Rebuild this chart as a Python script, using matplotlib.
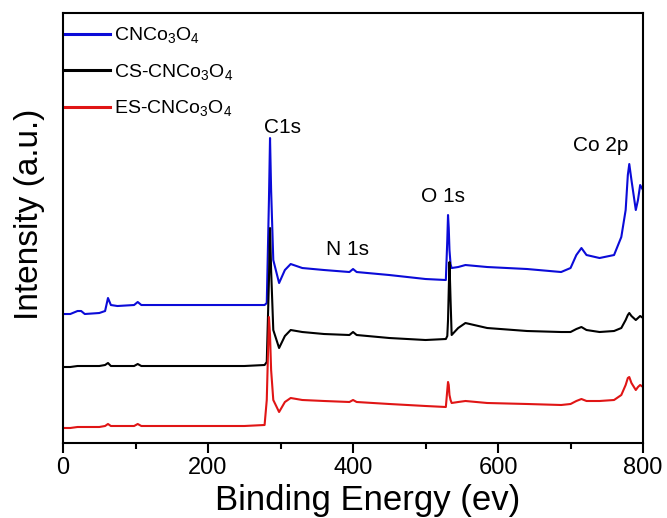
import numpy as np
import matplotlib
matplotlib.use("Agg")
import matplotlib.pyplot as plt
from matplotlib.ticker import MultipleLocator

plt.rcParams['font.family'] = ['Liberation Sans', 'DejaVu Sans']
plt.rcParams['mathtext.fontset'] = 'custom'
plt.rcParams['mathtext.rm'] = 'Liberation Sans'
plt.rcParams['mathtext.it'] = 'Liberation Sans:italic'

# 결합에너지 (eV)
energy = [0, 10, 20, 25, 30, 50, 58, 62, 66, 75, 98, 103, 108, 150, 200, 250,
          278, 281, 284, 285.5, 287, 290, 298, 306, 314, 330, 360, 395, 400, 405,
          450, 500, 528, 530, 531, 532, 533, 534.5, 536, 545, 555, 585, 640, 687,
          700, 708, 715, 722, 740, 760, 770, 776, 779, 781, 784, 790, 793, 796, 800]

# 세 시료의 세기 (a.u., 그림에서 읽은 값)
cnco = [129, 129, 132, 132, 129, 130, 132, 145, 138, 137, 138, 141, 138, 138, 138, 138,
        138, 140, 243, 305, 253, 183, 160, 173, 179, 175, 173, 171, 174, 171,
        168, 164, 163, 203, 228, 215, 193, 179, 175, 176, 178, 176, 174, 171,
        175, 188, 195, 188, 185, 188, 206, 233, 268, 279, 263, 233, 243, 258, 253]
cs_cnco = [76, 76, 77, 77, 77, 77, 78, 80, 77, 77, 77, 79, 77, 77, 77, 77,
           78, 81, 163, 215, 173, 113, 95, 107, 113, 111, 109, 108, 111, 108,
           105, 103, 104, 107, 123, 153, 181, 143, 108, 115, 120, 115, 112, 111,
           111, 114, 116, 113, 111, 112, 115, 123, 128, 130, 127, 123, 125, 127, 125]
es_cnco = [15, 15, 16, 16, 16, 16, 17, 19, 17, 17, 17, 19, 17, 17, 17, 17,
           18, 43, 126, 108, 73, 43, 31, 41, 45, 43, 42, 41, 43, 41,
           39, 37, 36, 53, 61, 58, 48, 43, 40, 41, 42, 40, 39, 38,
           39, 42, 44, 42, 42, 43, 48, 58, 65, 66, 60, 53, 56, 58, 56]

labels = ['CNCo$_3$O$_4$', 'CS-CNCo$_3$O$_4$', 'ES-CNCo$_3$O$_4$']
colors = ['#0b0bd8', 'black', '#e01515']

# 피크 이름
peak_names = ['C1s', 'N 1s', 'O 1s', 'Co 2p']
peak_x = [303, 392, 524, 742]
peak_y = [316, 194, 247, 298]

# 그리기
fig = plt.figure(figsize=(6.67, 5.18), dpi=100)
ax = fig.add_axes([0.0945, 0.1448, 0.8696, 0.830])

for yy, lab, c in zip([cnco, cs_cnco, es_cnco], labels, colors):
    ax.plot(energy, yy, color=c, lw=1.5, label=lab)

for name, px, py in zip(peak_names, peak_x, peak_y):
    ax.text(px, py, name, fontsize=15, ha='center', va='center')

ax.set_xlim(0, 800)
ax.set_ylim(0, 430)
ax.set_yticks([])
ax.xaxis.set_major_locator(MultipleLocator(200))
ax.xaxis.set_minor_locator(MultipleLocator(100))
ax.tick_params(axis='x', which='major', direction='out', length=7, width=1.5,
               labelsize=17, pad=3)
ax.tick_params(axis='x', which='minor', direction='out', length=4.5, width=1.5)
for s in ax.spines.values():
    s.set_linewidth(1.5)

ax.set_xlabel('Binding Energy (ev)', fontsize=25)
ax.set_ylabel('Intensity (a.u.)', fontsize=24)
ax.xaxis.set_label_coords(0.526, -0.095)
ax.yaxis.set_label_coords(-0.031, 0.533)

leg = ax.legend(loc='upper left', bbox_to_anchor=(0, 0.976), frameon=False,
                fontsize=14, handlelength=2.3, handletextpad=0.2,
                labelspacing=0.85, borderpad=0.1, borderaxespad=0)
for line in leg.get_lines():
    line.set_linewidth(2.2)

fig.savefig("out.png", dpi=100)
